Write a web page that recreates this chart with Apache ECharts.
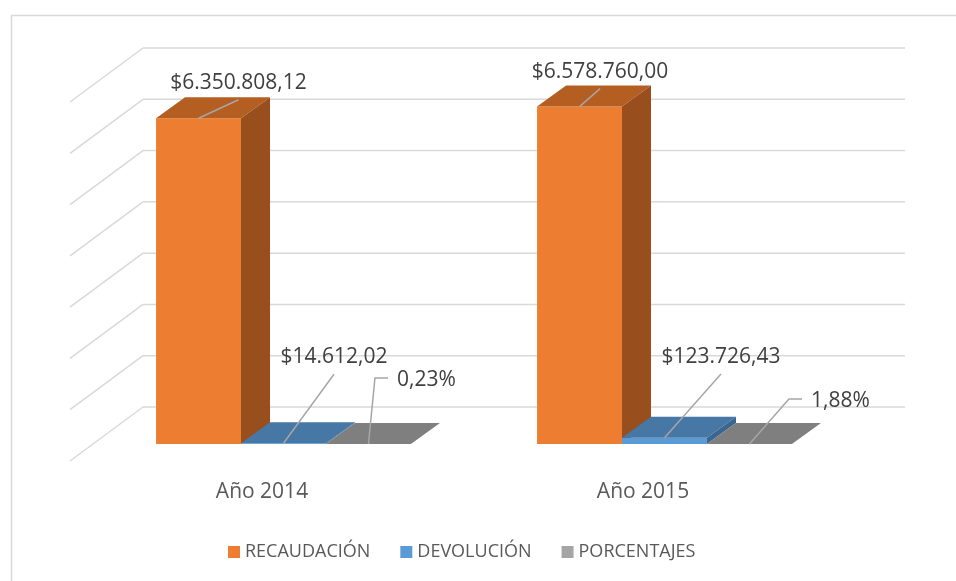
<!DOCTYPE html>
<html>
<head>
<meta charset="utf-8">
<script src="https://cdn.jsdelivr.net/npm/echarts@6/dist/echarts.min.js"></script>
<style>
  html, body { margin: 0; padding: 0; background: #fff; }
  #chart { width: 956px; height: 581px; }
</style>
</head>
<body>
<div id="chart"></div>
<script>
const categories = ['Año 2014', 'Año 2015']
const recaudacion = [6350808.12, 6578760.00]
const devolucion = [14612.02, 123726.43]
const porcentajes = [0.23, 1.88]
const yTicks = [0, 1000000, 2000000, 3000000, 4000000, 5000000, 6000000, 7000000]

// fake 3d: depth of one bar, and where the floor front / back wall sit relative to bar fronts
const DX = 29, DY = -21
const FRONT = [-23, 17]
const BACK = [50, -37]
const BAR_RATIO = 0.223
const FONT = '"Open Sans", "Liberation Sans", sans-serif'

// label placement relative to the middle of each bar's front top edge
const labelOffsets = [
  [[40, -35.5], [20.5, -35]],
  [[50.5, -86], [56.5, -80.6]],
  [[28.5, -64], [61.5, -43]],
]

function fmtMoney(v) {
  const [i, d] = v.toFixed(2).split('.')
  return '$' + i.replace(/\B(?=(\d{3})+(?!\d))/g, '.') + ',' + d
}
function fmtPct(v) {
  return v.toFixed(2).replace('.', ',') + '%'
}

function barRender(sIdx, colors, fmt, sideLabel) {
  return function (params, api) {
    const ci = api.value(0)
    const v = api.value(1)
    const base = api.coord([ci, 0])
    const top = api.coord([ci, v])
    const bw = api.size([1, 0])[0] * BAR_RATIO
    const x0 = base[0] + (sIdx - 1.5) * bw
    const x1 = x0 + bw
    const yb = base[1]
    const yt = Math.min(top[1], yb)
    const fx = x0 + bw / 2
    const off = labelOffsets[sIdx][ci]
    const lx = fx + off[0], ly = yt + off[1]
    const children = [
      { type: 'rect', shape: { x: x0, y: yt, width: bw, height: yb - yt }, style: { fill: colors[0] } },
      { type: 'polygon', shape: { points: [[x0, yt], [x1, yt], [x1 + DX, yt + DY], [x0 + DX, yt + DY]] }, style: { fill: colors[1] } },
      { type: 'polygon', shape: { points: [[x1, yt], [x1 + DX, yt + DY], [x1 + DX, yb + DY], [x1, yb]] }, style: { fill: colors[2] } },
    ]
    let pts, align
    if (sideLabel) {
      pts = [[fx, yt], [lx - 22, ly - 2], [lx - 9, ly - 2]]
      align = 'left'
    } else {
      pts = [[fx, yt], [lx, ly + 17]]
      align = 'center'
    }
    children.push({ type: 'polyline', shape: { points: pts }, style: { stroke: '#A6A6A6', lineWidth: 1.5, fill: null } })
    children.push({
      type: 'text', x: lx, y: ly,
      style: { text: fmt(v), fill: '#404040', fontSize: 21, fontFamily: FONT, align: align, verticalAlign: 'middle' },
    })
    return { type: 'group', children: children }
  }
}

function gridRender(params, api) {
  const v = api.value(1)
  const y = api.coord([0, v])[1]
  const gx = params.coordSys.x
  const gw = params.coordSys.width
  const style = { stroke: '#D9D9D9', lineWidth: 1.5 }
  return {
    type: 'group',
    children: [
      { type: 'line', shape: { x1: gx + BACK[0], y1: y + BACK[1], x2: gx + gw + BACK[0], y2: y + BACK[1] }, style: style },
      { type: 'line', shape: { x1: gx + BACK[0], y1: y + BACK[1], x2: gx + FRONT[0], y2: y + FRONT[1] }, style: style },
    ],
  }
}

const chart = echarts.init(document.getElementById('chart'))

const seriesDefs = [
  { name: 'RECAUDACIÓN', data: recaudacion, colors: ['#ED7D31', '#B45E22', '#984E1D'], fmt: fmtMoney, side: false },
  { name: 'DEVOLUCIÓN', data: devolucion, colors: ['#5B9BD5', '#4677A5', '#3B6690'], fmt: fmtMoney, side: false },
  { name: 'PORCENTAJES', data: porcentajes, colors: ['#A5A5A5', '#7F7F7F', '#6A6A6A'], fmt: fmtPct, side: true },
]

chart.setOption({
  animation: false,
  graphic: [{
    type: 'rect', left: 9, top: 13,
    shape: { width: 980, height: 600 },
    style: { fill: null, stroke: '#D9D9D9', lineWidth: 1.5 },
  }],
  legend: {
    data: seriesDefs.map(s => s.name),
    left: 223,
    top: 538,
    icon: 'rect',
    itemWidth: 12,
    itemHeight: 12,
    itemGap: 30,
    textStyle: { color: '#595959', fontSize: 18, fontFamily: FONT },
  },
  grid: { left: 93, right: 101, top: 85, bottom: 137 },
  xAxis: {
    type: 'category',
    data: categories,
    axisLine: { show: false },
    axisTick: { show: false },
    axisLabel: { color: '#595959', fontSize: 21, fontFamily: FONT, margin: 38, padding: [0, 43, 0, 0] },
  },
  yAxis: {
    type: 'value',
    min: 0,
    max: 7000000,
    interval: 1000000,
    axisLine: { show: false },
    axisLabel: { show: false },
    splitLine: { show: false },
  },
  series: [
    {
      type: 'custom',
      name: 'grid',
      z: 1,
      silent: true,
      renderItem: gridRender,
      data: yTicks.map(v => [0, v]),
      encode: { x: 0, y: 1 },
    },
    ...seriesDefs.map((s, i) => ({
      type: 'custom',
      name: s.name,
      z: 2,
      itemStyle: { color: s.colors[0] },
      renderItem: barRender(i, s.colors, s.fmt, s.side),
      data: s.data.map((v, ci) => [ci, v]),
      encode: { x: 0, y: 1 },
    })),
  ],
})

window.addEventListener('resize', () => chart.resize())
</script>
</body>
</html>
